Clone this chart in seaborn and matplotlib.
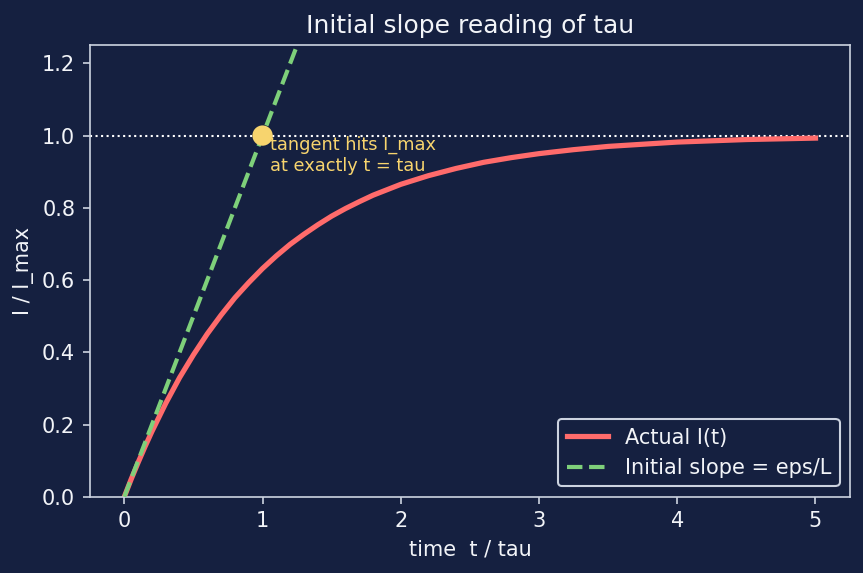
import matplotlib.pyplot as plt
import numpy as np
import pandas as pd
import seaborn as sns

# colours
bg = '#152040'
fc = '#f2f4f8'
edge = '#ccd3e0'
red = '#ff6b6b'
green = '#7ed07a'
yellow = '#f7d46e'

plt.rcParams['figure.facecolor'] = bg
plt.rcParams['axes.facecolor'] = bg
plt.rcParams['savefig.facecolor'] = bg
plt.rcParams['text.color'] = fc
plt.rcParams['axes.labelcolor'] = fc
plt.rcParams['xtick.color'] = fc
plt.rcParams['ytick.color'] = fc
plt.rcParams['axes.edgecolor'] = edge
plt.rcParams['font.family'] = ['DejaVu Sans']

# values (time in units of tau, current in units of I_max)
t_actual = [0, 0.05, 0.1, 0.15, 0.2, 0.3, 0.4, 0.5, 0.6, 0.7, 0.8, 0.9, 1.0,
            1.1, 1.2, 1.3, 1.4, 1.5, 1.6, 1.7, 1.8, 1.9, 2.0, 2.2, 2.4, 2.6,
            2.8, 3.0, 3.25, 3.5, 3.75, 4.0, 4.5, 5.0]
i_actual = [0, 0.049, 0.095, 0.139, 0.181, 0.259, 0.330, 0.393, 0.451, 0.503,
            0.551, 0.593, 0.632, 0.667, 0.699, 0.727, 0.753, 0.777, 0.798,
            0.817, 0.835, 0.850, 0.865, 0.889, 0.909, 0.926, 0.939, 0.950,
            0.961, 0.970, 0.976, 0.982, 0.989, 0.993]
t_slope = [0, 1.3]
i_slope = [0, 1.3]
hit_t = [1.0]
hit_i = [1.0]

fig, ax = plt.subplots(figsize=(863 / 150, 573 / 150), dpi=150)
fig.subplots_adjust(left=0.104, right=0.985, top=0.921, bottom=0.133)

ax.axhline(1.0, color='white', lw=1, ls=':', zorder=1)
sns.lineplot(x=t_actual, y=i_actual, ax=ax, color=red, lw=2.5,
             label='Actual I(t)', zorder=2)
sns.lineplot(x=t_slope, y=i_slope, ax=ax, color=green, lw=2, ls='--',
             label='Initial slope = eps/L', zorder=3)
ax.scatter(hit_t, hit_i, s=95, color=yellow, zorder=5, edgecolor='none')

ax.annotate('tangent hits I_max\nat exactly t = tau', xy=(1.0, 1.0),
            xytext=(3.5, 0), textcoords='offset points', ha='left', va='top',
            color=yellow, fontsize=8.5)

ax.set_xlim(-0.25, 5.25)
ax.set_ylim(0, 1.25)
ax.set_xticks([0, 1, 2, 3, 4, 5])
ax.set_yticks([0.0, 0.2, 0.4, 0.6, 0.8, 1.0, 1.2])
ax.set_xlabel('time  t / tau', fontsize=10)
ax.set_ylabel('I / I_max', fontsize=10)
ax.set_title('Initial slope reading of tau', fontsize=12, color=fc)
ax.tick_params(labelsize=10, color=edge)
for s in ax.spines.values():
    s.set_color(edge)

leg = ax.legend(loc='lower right', fontsize=10, facecolor=bg, edgecolor=edge,
                framealpha=1)
for txt in leg.get_texts():
    txt.set_color(fc)

plt.savefig('out.png', dpi=150)
